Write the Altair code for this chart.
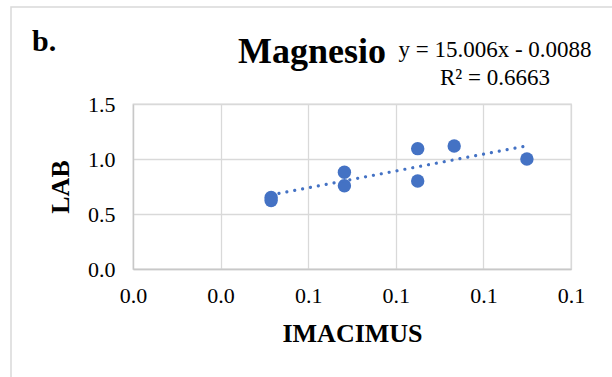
import altair as alt
import pandas as pd

# IMACIMUS vs LAB readings (magnesium)
imacimus = [0.0473, 0.0473, 0.0724, 0.0724, 0.0975, 0.0975, 0.1100, 0.1349]
lab = [0.650, 0.623, 0.879, 0.757, 1.094, 0.800, 1.118, 1.000]

x_ticks = [0.0, 0.03, 0.06, 0.09, 0.12, 0.15]
y_ticks = [0.0, 0.5, 1.0, 1.5]

panel_label = "b."
chart_title = "Magnesio"
equation = "y = 15.006x - 0.0088"
r_squared = "R\u00b2 = 0.6663"

df = pd.DataFrame({"IMACIMUS": imacimus, "LAB": lab})

FONT = "Liberation Serif"
BLUE = "#4472C4"
GRID = "#d9d9d9"

W, H = 438, 165
LEFT, TOP = 133, 104

x_enc = alt.X(
    "IMACIMUS:Q",
    scale=alt.Scale(domain=[0, 0.15], nice=False, zero=False),
    axis=alt.Axis(
        values=x_ticks, format=".1f", title="IMACIMUS",
        labelFont=FONT, labelFontSize=22, labelColor="#000000",
        labelPadding=16, ticks=False, domainColor="#c8c8c8", domainWidth=1.3,
        gridColor=GRID, gridWidth=1.3,
        titleFont=FONT, titleFontSize=26, titleFontWeight="bold", titleColor="#000000",
        titleX=W / 2, titleY=64, titleBaseline="middle", titleAlign="center",
        labelFlush=False,
    ),
)
y_enc = alt.Y(
    "LAB:Q",
    scale=alt.Scale(domain=[0, 1.5], nice=False, zero=False),
    axis=alt.Axis(
        values=y_ticks, format=".1f", title="LAB",
        labelFont=FONT, labelFontSize=22, labelColor="#000000",
        labelPadding=18, ticks=False, domainColor="#c8c8c8", domainWidth=1.3,
        gridColor=GRID, gridWidth=1.3,
        titleFont=FONT, titleFontSize=26, titleFontWeight="bold", titleColor="#000000",
        titleX=-73, titleY=H / 2, titleBaseline="middle", titleAlign="center",
        titleAngle=270, labelFlush=False,
    ),
)

base = alt.Chart(df)

points = base.mark_circle(size=180, color=BLUE, opacity=1).encode(x=x_enc, y=y_enc)

trend = (
    base.transform_regression("IMACIMUS", "LAB")
    .mark_line(color=BLUE, strokeWidth=3.2, strokeDash=[0.01, 8], strokeCap="round")
    .encode(x="IMACIMUS:Q", y="LAB:Q")
)

# outer frame of the figure
frame = alt.Chart(pd.DataFrame({"k": [0]})).mark_rect(
    fill=None, stroke="#d9d9d9", strokeWidth=1.5
).encode(
    x=alt.value(11 - LEFT), x2=alt.value(660 - LEFT),
    y=alt.value(7 - TOP), y2=alt.value(420 - TOP),
)

def label(text, x, y, size, weight="normal", align="left"):
    return alt.Chart(pd.DataFrame({"t": [text]})).mark_text(
        font=FONT, fontSize=size, fontWeight=weight, align=align,
        baseline="alphabetic", color="#000000",
    ).encode(text="t:N", x=alt.value(x - LEFT), y=alt.value(y - TOP))

texts = (
    label(panel_label, 32, 51, 30, "bold")
    + label(chart_title, 312, 63, 36, "bold", "center")
    + label(equation, 495, 57, 23, align="center")
    + label(r_squared, 495, 85, 23, align="center")
)

chart = (
    alt.layer(frame, points, trend, texts)
    .properties(
        width=W, height=H,
        autosize=alt.AutoSizeParams(type="none"),
        padding={"left": LEFT, "top": TOP, "right": 612 - LEFT - W, "bottom": 377 - TOP - H},
        background="#ffffff",
    )
    .configure_view(stroke=GRID, strokeWidth=1.3)
)

chart.save("out.html", embed_options={"renderer": "svg", "actions": False})
